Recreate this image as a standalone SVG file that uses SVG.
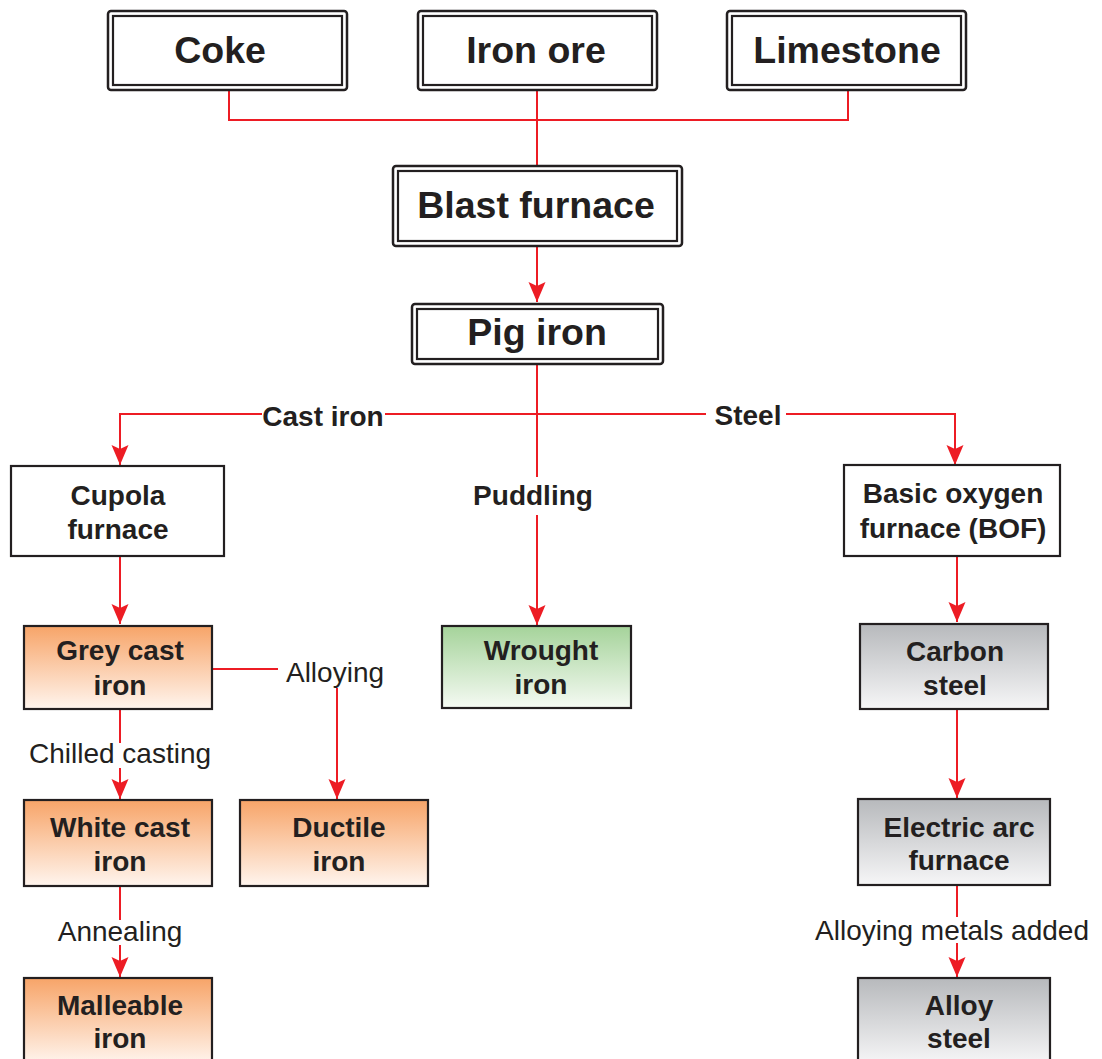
<svg xmlns="http://www.w3.org/2000/svg" width="1102" height="1059" viewBox="0 0 1102 1059">
<defs>
<linearGradient id="gOrange" x1="0" y1="0" x2="0" y2="1"><stop offset="0" stop-color="#f7a468"/><stop offset="1" stop-color="#fff5ee"/></linearGradient>
<linearGradient id="gGreen" x1="0" y1="0" x2="0" y2="1"><stop offset="0" stop-color="#a5d39a"/><stop offset="1" stop-color="#f5faf3"/></linearGradient>
<linearGradient id="gGray" x1="0" y1="0" x2="0" y2="1"><stop offset="0" stop-color="#b7b9bc"/><stop offset="1" stop-color="#f6f6f7"/></linearGradient>
<marker id="arr" markerUnits="userSpaceOnUse" markerWidth="24" markerHeight="20" viewBox="-22 -10 24 20" refX="0" refY="0" orient="auto">
<path d="M-20,-8.5 L0,0 L-20,8.5 L-16,0 Z" fill="#ed1c24"/>
</marker>
<style>
.c{fill:none;stroke:#ed1c24;stroke-width:2}
.a{marker-end:url(#arr)}
.ob{fill:#fff;stroke:#231f20;stroke-width:2.5}
.ib{fill:none;stroke:#231f20;stroke-width:2.2}
.bx{stroke:#231f20;stroke-width:2.2}
.t{font-family:"Liberation Sans",Arial,sans-serif;fill:#231f20;text-anchor:middle}
.big{font-size:37.5px;font-weight:bold}
.bd{font-size:28px;font-weight:bold}
.rg{font-size:28px}
</style>
</defs>
<rect width="1102" height="1059" fill="#fff"/>
<g id="connectors">
<polyline class="c" points="229,91 229,120 848,120 848,91"/>
<line class="c" x1="537" y1="91" x2="537" y2="166"/>
<line class="c a" x1="537" y1="247" x2="537" y2="302"/>
<line class="c" x1="537" y1="365" x2="537" y2="477"/>
<line class="c a" x1="537" y1="515" x2="537" y2="625"/>
<polyline class="c a" points="262,414 120,414 120,465"/>
<line class="c" x1="385" y1="414" x2="706" y2="414"/>
<polyline class="c a" points="786,414 955,414 955,465"/>
<line class="c a" x1="120" y1="556" x2="120" y2="624"/>
<line class="c a" x1="957" y1="556" x2="957" y2="622"/>
<line class="c" x1="212" y1="669" x2="278" y2="669"/>
<line class="c a" x1="337" y1="688" x2="337" y2="799"/>
<line class="c" x1="120" y1="709" x2="120" y2="743"/>
<line class="c a" x1="120" y1="768" x2="120" y2="799"/>
<line class="c" x1="120" y1="886" x2="120" y2="920"/>
<line class="c a" x1="120" y1="945" x2="120" y2="977"/>
<line class="c a" x1="957" y1="709" x2="957" y2="798"/>
<line class="c" x1="957" y1="885" x2="957" y2="917"/>
<line class="c a" x1="957" y1="943" x2="957" y2="977"/>
<text class="t bd" x="323" y="426">Cast iron</text>
<text class="t bd" x="748" y="425">Steel</text>
<text class="t bd" x="533" y="505">Puddling</text>
<text class="t rg" x="335" y="682">Alloying</text>
<text class="t rg" x="120" y="763">Chilled casting</text>
<text class="t rg" x="120" y="941">Annealing</text>
<text class="t rg" x="952" y="940">Alloying metals added</text>
</g>
<g id="coke">
<rect class="ob" x="108" y="11" width="239" height="79" rx="3"/>
<rect class="ib" x="113" y="16" width="229" height="69"/>
<text class="t big" x="220" y="63">Coke</text>
</g>
<g id="iron-ore">
<rect class="ob" x="418" y="11" width="239" height="79" rx="3"/>
<rect class="ib" x="423" y="16" width="229" height="69"/>
<text class="t big" x="536" y="63">Iron ore</text>
</g>
<g id="limestone">
<rect class="ob" x="727" y="11" width="239" height="79" rx="3"/>
<rect class="ib" x="732" y="16" width="229" height="69"/>
<text class="t big" x="847" y="63">Limestone</text>
</g>
<g id="blast-furnace">
<rect class="ob" x="393" y="166" width="289" height="80" rx="3"/>
<rect class="ib" x="398" y="171" width="279" height="70"/>
<text class="t big" x="536" y="218">Blast furnace</text>
</g>
<g id="pig-iron">
<rect class="ob" x="412" y="304" width="251" height="60" rx="3"/>
<rect class="ib" x="417" y="309" width="241" height="50"/>
<text class="t big" x="537" y="345">Pig iron</text>
</g>
<g id="cupola">
<rect class="bx" fill="#fff" x="11" y="466" width="213" height="90"/>
<text class="t bd" x="118" y="505">Cupola</text>
<text class="t bd" x="118" y="539">furnace</text>
</g>
<g id="bof">
<rect class="bx" fill="#fff" x="844" y="465" width="216" height="91"/>
<text class="t bd" x="953" y="503">Basic oxygen</text>
<text class="t bd" x="953" y="538">furnace (BOF)</text>
</g>
<g id="grey-cast-iron">
<rect class="bx" fill="url(#gOrange)" x="24" y="626" width="188" height="83"/>
<text class="t bd" x="120" y="660">Grey cast</text>
<text class="t bd" x="120" y="695">iron</text>
</g>
<g id="wrought-iron">
<rect class="bx" fill="url(#gGreen)" x="442" y="626" width="189" height="82"/>
<text class="t bd" x="541" y="660">Wrought</text>
<text class="t bd" x="541" y="694">iron</text>
</g>
<g id="carbon-steel">
<rect class="bx" fill="url(#gGray)" x="860" y="624" width="188" height="85"/>
<text class="t bd" x="955" y="661">Carbon</text>
<text class="t bd" x="955" y="695">steel</text>
</g>
<g id="white-cast-iron">
<rect class="bx" fill="url(#gOrange)" x="24" y="800" width="188" height="86"/>
<text class="t bd" x="120" y="837">White cast</text>
<text class="t bd" x="120" y="871">iron</text>
</g>
<g id="ductile-iron">
<rect class="bx" fill="url(#gOrange)" x="240" y="800" width="188" height="86"/>
<text class="t bd" x="339" y="837">Ductile</text>
<text class="t bd" x="339" y="871">iron</text>
</g>
<g id="eaf">
<rect class="bx" fill="url(#gGray)" x="858" y="799" width="192" height="86"/>
<text class="t bd" x="959" y="837">Electric arc</text>
<text class="t bd" x="959" y="870">furnace</text>
</g>
<g id="malleable-iron">
<rect class="bx" fill="url(#gOrange)" x="24" y="978" width="188" height="86"/>
<text class="t bd" x="120" y="1015">Malleable</text>
<text class="t bd" x="120" y="1048">iron</text>
</g>
<g id="alloy-steel">
<rect class="bx" fill="url(#gGray)" x="858" y="978" width="192" height="86"/>
<text class="t bd" x="959" y="1015">Alloy</text>
<text class="t bd" x="959" y="1048">steel</text>
</g>
</svg>
